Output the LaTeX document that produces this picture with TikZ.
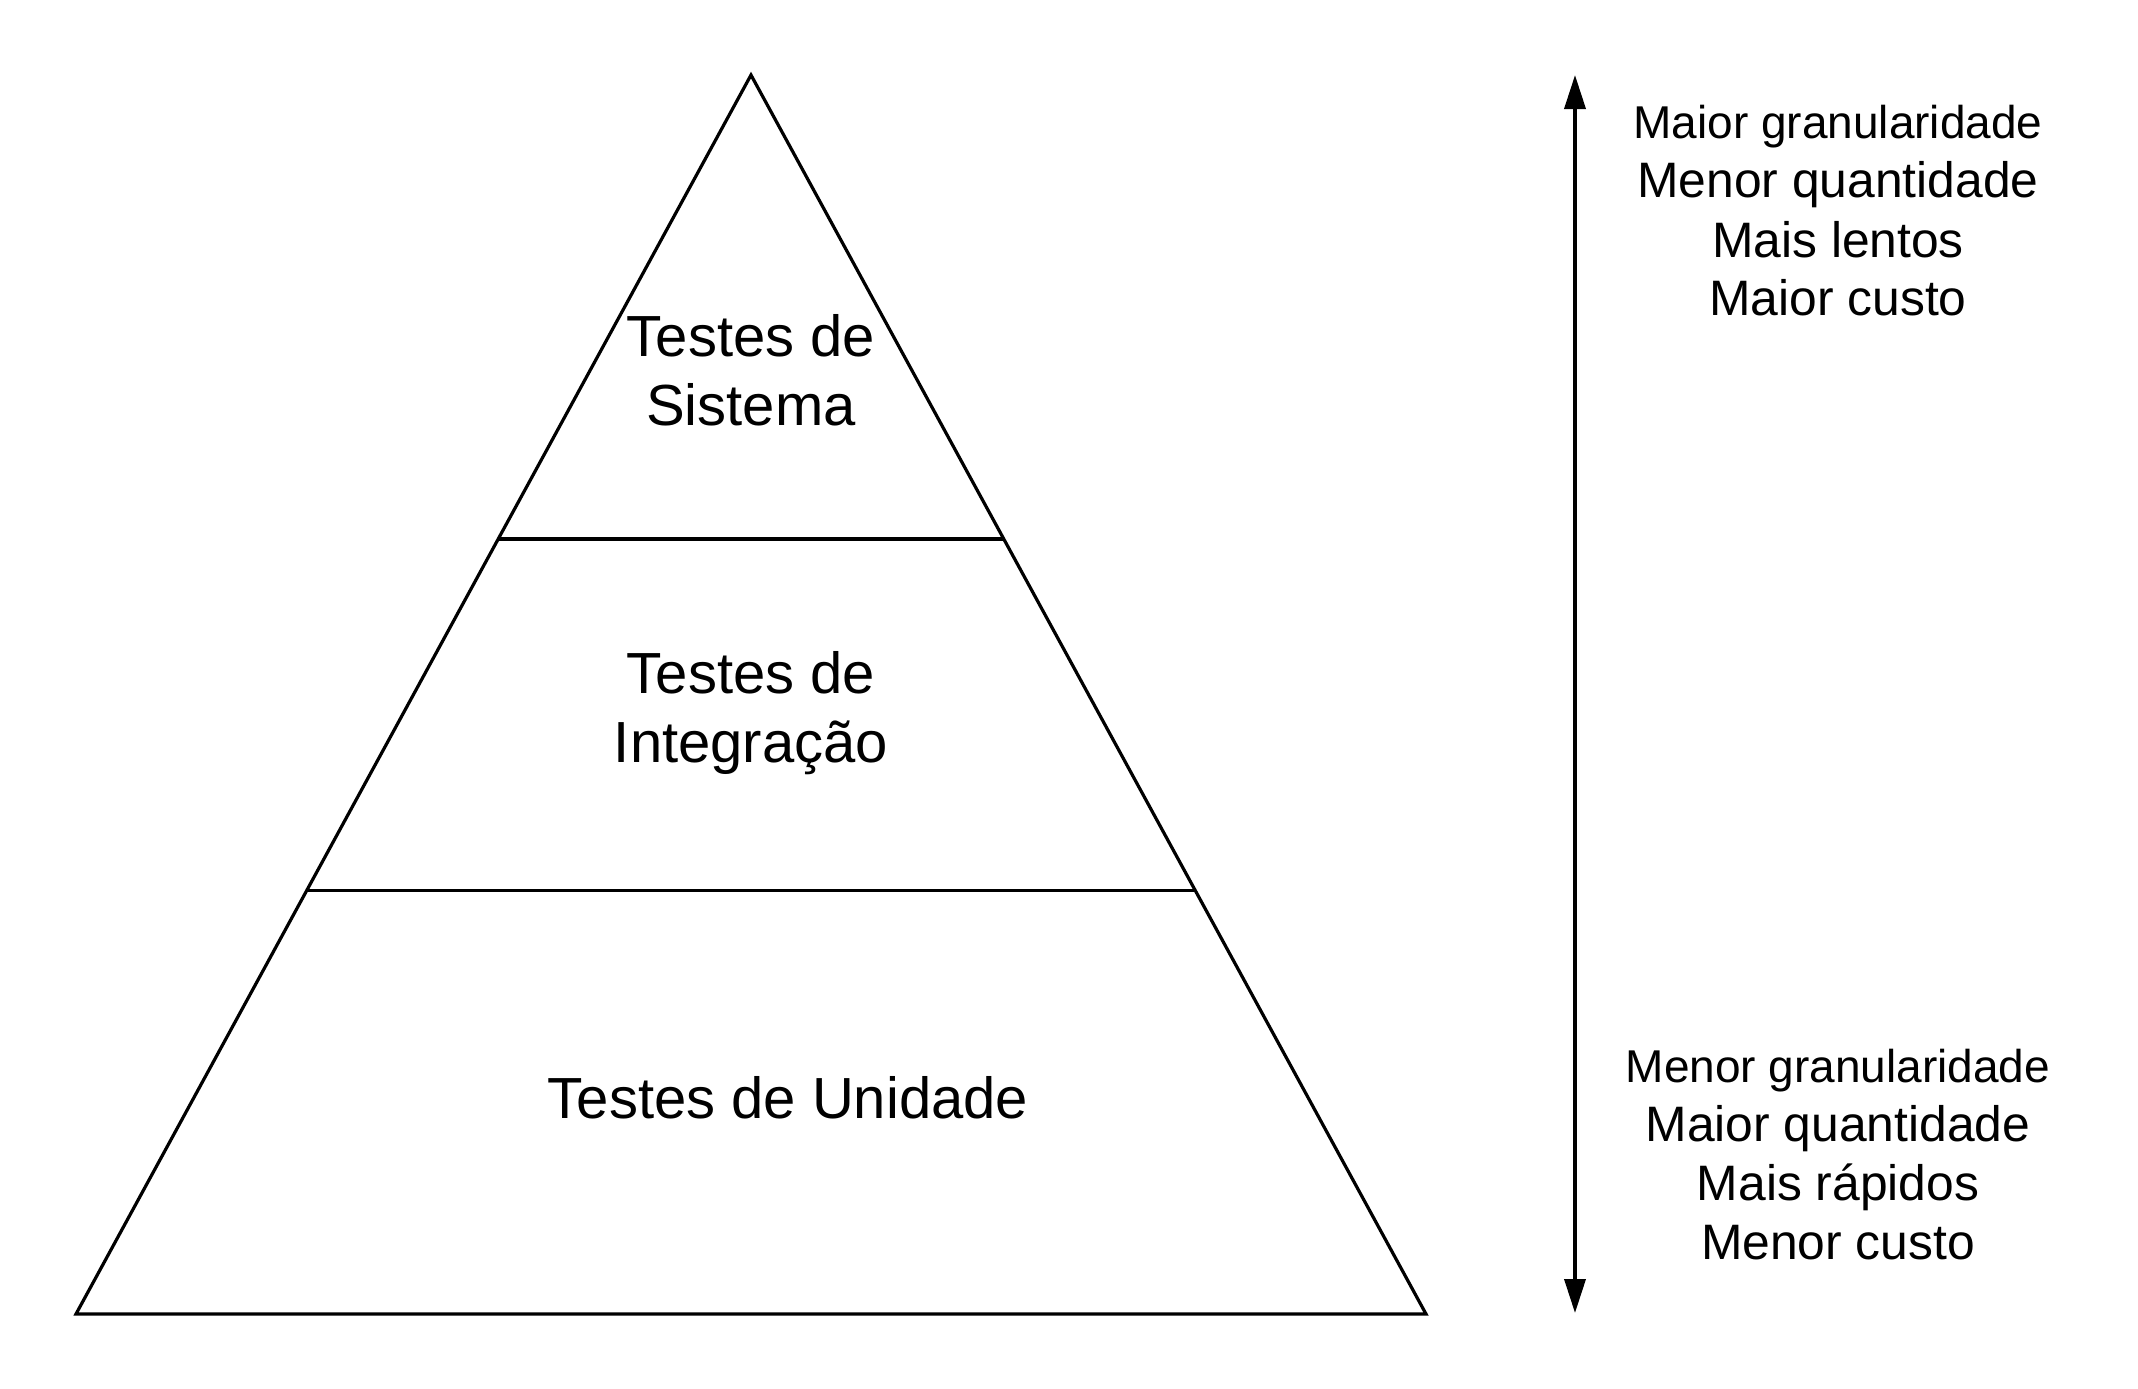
\documentclass[tikz,border=0pt]{standalone}
\usepackage{fontspec}
\setmainfont{Liberation Sans}
\usetikzlibrary{arrows.meta,calc}
\begin{document}
\begin{tikzpicture}[x=0.5pt,y=-0.5pt,
  edge/.style={line width=1.6pt,line join=miter},
  bigtxt/.style={anchor=base,inner sep=0pt,font=\fontsize{29}{35}\selectfont},
  sidetxt/.style={anchor=base,inner sep=0pt,font=\fontsize{24.9}{30}\selectfont},
  sidesmall/.style={anchor=base,inner sep=0pt,font=\fontsize{23}{28}\selectfont},
  scalearrow/.style={line width=1.8pt,{Triangle[length=17pt,width=10.5pt]}-{Triangle[length=17pt,width=10.5pt]}}]
\useasboundingbox (0,0) rectangle (2138,1388);
% pyramid
\coordinate (apex) at (751,75);
\coordinate (bl) at (76,1314);
\coordinate (br) at (1426,1314);
\draw[edge] (apex) -- (bl) -- (br) -- cycle;
\coordinate (l1a) at ($(apex)!0.3745!(bl)$);
\coordinate (l1b) at ($(apex)!0.3745!(br)$);
\coordinate (l2a) at ($(apex)!0.658!(bl)$);
\coordinate (l2b) at ($(apex)!0.658!(br)$);
\draw[edge] (l1a) -- (l1b);
\draw[edge] (l2a) -- (l2b);
% pyramid labels
\node[bigtxt] (sis1) at (751,356) {Testes de};
\node[bigtxt] (sis2) at (751,425) {Sistema};
\node[bigtxt] (int1) at (751,693) {Testes de};
\node[bigtxt] (int2) at (751,762) {Integração};
\node[bigtxt] (uni) at (788,1118) {Testes de Unidade};
% scale arrow
\coordinate (atop) at (1575,75);
\coordinate (abot) at (1575,1313);
\draw[scalearrow] (abot) -- (atop);
% side labels top
\node[sidesmall] (t1) at (1838,138) {Maior granularidade};
\node[sidetxt] (t2) at (1838,197) {Menor quantidade};
\node[sidetxt] (t3) at (1838,257) {Mais lentos};
\node[sidetxt] (t4) at (1838,315) {Maior custo};
% side labels bottom
\node[sidesmall] (b1) at (1838,1082) {Menor granularidade};
\node[sidetxt] (b2) at (1838,1141) {Maior quantidade};
\node[sidetxt] (b3) at (1838,1200) {Mais rápidos};
\node[sidetxt] (b4) at (1838,1259) {Menor custo};
\end{tikzpicture}
\end{document}
